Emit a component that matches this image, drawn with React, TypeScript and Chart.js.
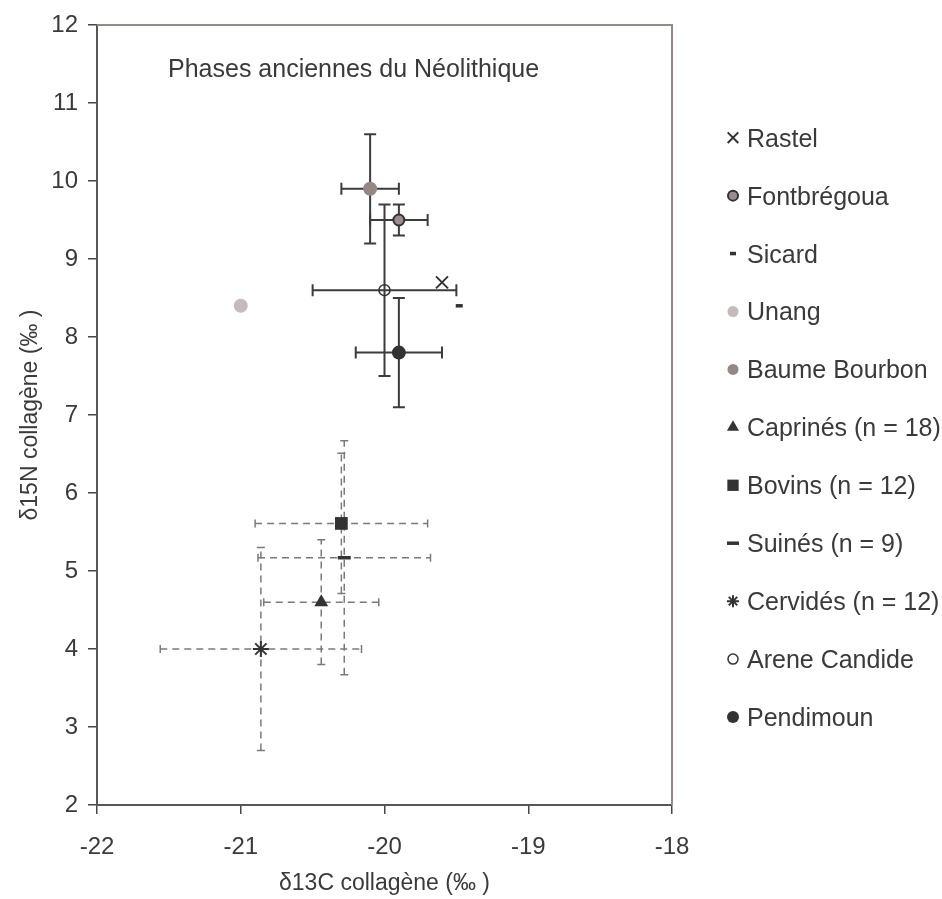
import React, { useEffect, useRef } from 'react';
import { Chart, registerables } from 'chart.js';
import { drawPoint } from 'chart.js/helpers';

Chart.register(...registerables);

// ---- data ----
const seriesNames = [
  'Rastel',
  'Fontbrégoua',
  'Sicard',
  'Unang',
  'Baume Bourbon',
  'Caprinés (n = 18)',
  'Bovins (n = 12)',
  'Suinés (n = 9)',
  'Cervidés (n = 12)',
  'Arene Candide',
  'Pendimoun',
];
const d13C = [-19.6, -19.9, -19.48, -21.0, -20.1, -20.44, -20.3, -20.28, -20.86, -20.0, -19.9];
const d15N = [8.7, 9.5, 8.4, 8.4, 9.9, 4.6, 5.61, 5.17, 4.0, 8.6, 7.8];
const d13CErr = [0, 0.2, 0, 0, 0.2, 0.4, 0.6, 0.6, 0.7, 0.5, 0.3];
const d15NErr = [0, 0.2, 0, 0, 0.7, 0.8, 0.9, 1.5, 1.3, 1.1, 0.7];
const xTickValues = [-22, -21, -20, -19, -18];
const yTickValues = [2, 3, 4, 5, 6, 7, 8, 9, 10, 11, 12];
const chartTitle = 'Phases anciennes du Néolithique';
const xAxisTitle = 'δ13C collagène (‰ )';
const yAxisTitle = 'δ15N collagène (‰ )';

// ---- styles ----
const DARK = '#333336';
const TEXT = '#3a3a3a';
const FONT = '"Liberation Sans", Arial, sans-serif';
type St = {
  pointStyle: any; radius: number; legendRadius: number; borderWidth: number;
  bg: string; border: string; dashed: boolean;
};
const styles: St[] = [
  { pointStyle: 'crossRot', radius: 8.5, legendRadius: 7.5, borderWidth: 2, bg: DARK, border: DARK, dashed: false },
  { pointStyle: 'circle', radius: 5.5, legendRadius: 5, borderWidth: 2, bg: '#9a8e8b', border: DARK, dashed: false },
  { pointStyle: 'line', radius: 3.5, legendRadius: 3, borderWidth: 3.5, bg: DARK, border: DARK, dashed: false },
  { pointStyle: 'circle', radius: 7, legendRadius: 5.5, borderWidth: 0, bg: '#c4bcbb', border: '#c4bcbb', dashed: false },
  { pointStyle: 'circle', radius: 7, legendRadius: 5.5, borderWidth: 0, bg: '#958784', border: '#958784', dashed: false },
  { pointStyle: 'triangle', radius: 8, legendRadius: 7, borderWidth: 0, bg: DARK, border: DARK, dashed: true },
  { pointStyle: 'rect', radius: 9, legendRadius: 8, borderWidth: 0, bg: DARK, border: DARK, dashed: true },
  { pointStyle: 'line', radius: 6.5, legendRadius: 6, borderWidth: 3.5, bg: DARK, border: DARK, dashed: true },
  { pointStyle: 'star', radius: 8, legendRadius: 6, borderWidth: 2, bg: DARK, border: DARK, dashed: true },
  { pointStyle: 'circle', radius: 5.5, legendRadius: 5, borderWidth: 1.5, bg: 'rgba(255,255,255,0)', border: DARK, dashed: false },
  { pointStyle: 'circle', radius: 7, legendRadius: 6, borderWidth: 0, bg: DARK, border: DARK, dashed: false },
];

const errorBarPlugin = {
  id: 'errorBars',
  beforeDatasetsDraw(chart: any) {
    const ctx = chart.ctx;
    const xs = chart.scales.x;
    const ys = chart.scales.y;
    chart.data.datasets.forEach((ds: any, i: number) => {
      const p = ds.data[0];
      const ex = p.xErr, ey = p.yErr;
      if (!ex && !ey) return;
      const st = styles[i];
      const px = xs.getPixelForValue(p.x);
      const py = ys.getPixelForValue(p.y);
      const x0 = xs.getPixelForValue(p.x - ex);
      const x1 = xs.getPixelForValue(p.x + ex);
      const y0 = ys.getPixelForValue(p.y - ey);
      const y1 = ys.getPixelForValue(p.y + ey);
      ctx.save();
      ctx.strokeStyle = st.dashed ? '#7a7a7a' : '#3c3c3e';
      ctx.lineWidth = st.dashed ? 1.5 : 2;
      ctx.setLineDash(st.dashed ? [7, 5] : []);
      ctx.beginPath();
      ctx.moveTo(x0, py); ctx.lineTo(x1, py);
      ctx.moveTo(px, y0); ctx.lineTo(px, y1);
      ctx.stroke();
      ctx.setLineDash([]);
      const c = st.dashed ? 4 : 6;
      ctx.beginPath();
      ctx.moveTo(x0, py - c); ctx.lineTo(x0, py + c);
      ctx.moveTo(x1, py - c); ctx.lineTo(x1, py + c);
      ctx.moveTo(px - c, y0); ctx.lineTo(px + c, y0);
      ctx.moveTo(px - c, y1); ctx.lineTo(px + c, y1);
      ctx.stroke();
      ctx.restore();
    });
  },
};

const framePlugin = {
  id: 'frameAndTexts',
  afterDraw(chart: any) {
    const ctx = chart.ctx;
    const a = chart.chartArea;
    ctx.save();
    // top and right frame lines
    ctx.strokeStyle = '#958a8a';
    ctx.lineWidth = 2;
    ctx.beginPath();
    ctx.moveTo(a.left, a.top);
    ctx.lineTo(a.right, a.top);
    ctx.lineTo(a.right, a.bottom);
    ctx.stroke();
    // inner title
    ctx.fillStyle = TEXT;
    ctx.font = `25px ${FONT}`;
    ctx.textBaseline = 'alphabetic';
    ctx.textAlign = 'left';
    ctx.fillText(chartTitle, a.left + 71, a.top + 52);
    // legend
    const lx = a.right + 61;
    const tx = a.right + 75;
    const baseY = 146.7;
    const step = 57.93;
    chart.data.datasets.forEach((ds: any, i: number) => {
      const st = styles[i];
      const by = baseY + i * step;
      ctx.fillStyle = st.bg;
      ctx.strokeStyle = st.border;
      ctx.lineWidth = st.borderWidth;
      drawPoint(ctx, { pointStyle: st.pointStyle, radius: st.legendRadius, borderWidth: st.borderWidth, rotation: 0 } as any, lx, by - 9);
      ctx.fillStyle = TEXT;
      ctx.font = `25px ${FONT}`;
      ctx.fillText(ds.label, tx, by);
    });
    ctx.restore();
  },
};

export default function App() {
  const ref = useRef<HTMLCanvasElement | null>(null);
  useEffect(() => {
    if (!ref.current) return;
    const datasets = seriesNames.map((name, i) => ({
      label: name,
      data: [{ x: d13C[i], y: d15N[i], xErr: d13CErr[i], yErr: d15NErr[i] }],
      pointStyle: styles[i].pointStyle,
      pointRadius: styles[i].radius,
      pointHoverRadius: styles[i].radius,
      pointBackgroundColor: styles[i].bg,
      pointBorderColor: styles[i].border,
      pointBorderWidth: styles[i].borderWidth,
      backgroundColor: styles[i].bg,
      borderColor: styles[i].border,
      showLine: false,
    }));
    const chart = new Chart(ref.current, {
      type: 'scatter',
      data: { datasets },
      plugins: [errorBarPlugin, framePlugin],
      options: {
        animation: false,
        responsive: true,
        maintainAspectRatio: false,
        layout: { padding: { left: 0, right: 270, top: 25, bottom: 0 } },
        plugins: { legend: { display: false }, tooltip: { enabled: false } },
        scales: {
          x: {
            type: 'linear',
            min: xTickValues[0],
            max: xTickValues[xTickValues.length - 1],
            afterBuildTicks: (s: any) => { s.ticks = xTickValues.map((v) => ({ value: v })); },
            afterFit: (s: any) => { s.height = 94; },
            ticks: { color: TEXT, font: { family: FONT, size: 24 }, padding: 19 },
            grid: { drawOnChartArea: false, drawTicks: true, tickLength: 9, color: '#4a4545', lineWidth: 1.5 },
            border: { display: true, color: '#5c5555', width: 2 },
            title: { display: true, text: xAxisTitle, color: TEXT, font: { family: FONT, size: 23 }, padding: { top: 0, bottom: 2 } },
          },
          y: {
            type: 'linear',
            min: yTickValues[0],
            max: yTickValues[yTickValues.length - 1],
            afterBuildTicks: (s: any) => { s.ticks = yTickValues.map((v) => ({ value: v })); },
            afterFit: (s: any) => { s.width = 97; },
            ticks: { color: TEXT, font: { family: FONT, size: 24 }, padding: 10 },
            grid: { drawOnChartArea: false, drawTicks: true, tickLength: 9, color: '#4a4545', lineWidth: 1.5 },
            border: { display: true, color: '#5c5555', width: 2 },
            title: { display: true, text: yAxisTitle, color: TEXT, font: { family: FONT, size: 23 }, padding: { top: 17, bottom: 0 } },
          },
        },
      } as any,
    });
    return () => chart.destroy();
  }, []);
  return (
    <div style={{ position: 'absolute', left: 0, top: 0, width: 942, height: 899, background: '#fff' }}>
      <canvas ref={ref} />
    </div>
  );
}
